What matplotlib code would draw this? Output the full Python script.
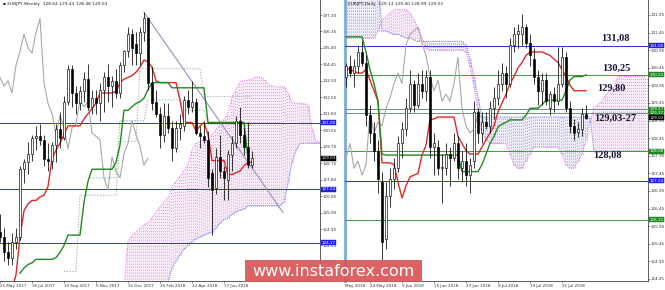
import numpy as np
import matplotlib
matplotlib.use("Agg")
import matplotlib.pyplot as plt
from matplotlib.patches import Rectangle

plt.rcParams["lines.scale_dashes"] = False

# ---------------- weekly panel data (week index 0 = 21 May 2017) ----------------
w_open = [124.8, 124.5, 123.6, 123.3, 124.2, 124.5, 128.4, 128.8, 129.3, 130.2,
          130.3, 130.1, 129.0, 128.9, 129.8, 130.7, 130.2, 132.3, 134.2, 132.8,
          132.2, 132.9, 133.6, 132.0, 132.5, 132.2, 133.0, 133.7, 133.2, 133.5,
          132.8, 134.4, 135.2, 136.2, 135.6, 135.1, 136.3, 137.1, 133.4, 132.3,
          131.6, 130.4, 131.5, 130.8, 129.6, 130.8, 130.9, 132.4, 132.0, 132.3,
          130.5, 130.3, 130.1, 128.2, 127.3, 129.1, 128.3, 127.8, 129.2, 129.9,
          131.2, 130.4, 129.7, 128.64]
w_high = [125.8, 125.0, 124.2, 124.7, 125.0, 128.6, 129.0, 130.0, 130.4, 130.9,
          131.0, 130.4, 129.9, 130.0, 131.0, 131.7, 132.6, 134.4, 134.4, 133.2,
          133.2, 134.0, 134.5, 133.0, 133.0, 133.4, 134.0, 134.5, 133.8, 134.2,
          134.6, 135.3, 136.6, 136.5, 136.3, 136.6, 137.5, 137.2, 134.3, 133.0,
          132.0, 132.2, 132.2, 131.2, 131.2, 131.6, 132.6, 133.0, 133.5, 132.5,
          130.9, 131.2, 130.6, 128.4, 129.6, 130.4, 128.6, 129.5, 130.3, 131.5,
          132.0, 130.8, 131.1, 129.43]
w_low = [124.2, 123.1, 122.9, 122.9, 123.8, 124.3, 127.6, 128.1, 128.9, 129.5,
         129.8, 128.6, 128.3, 128.4, 128.8, 129.6, 130.1, 132.1, 132.0, 131.6,
         131.8, 132.3, 131.8, 131.6, 131.6, 131.2, 131.7, 132.3, 132.0, 132.5,
         132.5, 134.0, 134.9, 134.4, 134.4, 134.4, 135.8, 133.0, 131.8, 131.4,
         129.6, 130.0, 130.5, 128.9, 129.4, 130.1, 130.6, 131.6, 131.7, 130.4,
         129.6, 129.9, 127.4, 124.6, 127.0, 127.9, 126.6, 126.6, 128.3, 129.6,
         129.9, 129.2, 128.5, 128.48]
w_close = [124.5, 123.6, 123.3, 124.2, 124.5, 128.4, 128.8, 129.3, 130.2, 130.3,
           130.1, 129.0, 128.9, 129.8, 130.7, 130.2, 132.3, 134.2, 132.8, 132.2,
           132.9, 133.6, 132.0, 132.5, 132.2, 133.0, 133.7, 133.2, 133.5, 132.8,
           134.4, 135.2, 136.2, 135.4, 135.1, 136.3, 137.1, 133.4, 132.2, 131.6,
           130.4, 131.5, 130.8, 129.6, 130.8, 131.0, 132.4, 132.0, 132.3, 130.5,
           130.3, 130.1, 127.9, 127.2, 129.1, 128.3, 127.9, 129.3, 129.9, 131.2,
           130.4, 129.7, 128.64, 129.03]

w_tenkan_start = 3
w_tenkan = [121.5, 122.3, 124.5, 126.0, 126.4, 126.6, 126.6, 126.8, 126.9, 127.4,
            129.0, 129.5, 129.9, 130.4, 130.9, 130.9, 130.9, 130.9, 131.3, 131.6,
            131.9, 132.2, 132.8, 132.8, 132.8, 132.8, 132.9, 133.4, 133.6, 133.7,
            133.8, 134.0, 134.3, 134.7, 134.6, 134.3, 133.5, 133.4, 133.4, 133.4,
            133.4, 133.4, 132.4, 131.1, 131.1, 131.1, 130.6, 130.9, 131.1, 130.4,
            128.9, 128.9, 128.9, 128.9, 128.1, 128.1, 128.2, 128.3, 128.6, 128.8,
            128.8]
w_kijun_start = 5
w_kijun = [122.4, 122.7, 122.9, 123.0, 123.2, 123.2, 123.2, 123.2, 123.2, 123.3,
           123.6, 124.0, 124.6, 124.6, 124.6, 124.6, 126.5, 127.7, 128.4, 128.4,
           128.4, 128.4, 128.4, 128.4, 128.8, 129.8, 131.8, 131.8, 132.0, 132.2,
           132.3, 132.5, 133.0, 133.4, 133.4, 133.4, 133.4, 133.4, 133.1, 133.1,
           133.1, 133.1, 133.1, 133.1, 133.1, 133.1, 133.1, 131.1, 131.1, 131.1,
           131.1, 131.1, 131.1, 131.1, 131.1, 131.1, 131.1, 129.05]
w_cloud_start = 31
w_span_a = [121.5, 124.2, 124.6, 124.8, 125.0, 125.2, 125.3, 125.6, 125.9, 126.2,
            126.5, 126.74, 127.4, 127.7, 128.0, 128.3, 128.64, 129.5, 129.9, 130.0,
            130.1, 130.1, 130.4, 130.7, 131.0, 131.3, 131.6, 132.57, 133.0, 133.43,
            133.5, 133.55, 133.6, 133.72, 133.7, 133.6, 133.3, 133.2, 133.15, 133.15,
            133.15, 132.8, 132.22, 132.2, 132.2, 132.2, 132.1, 130.75, 130.0, 130.0]
w_span_b = [121.0, 121.0, 121.0, 121.0, 121.0, 121.0, 121.0, 121.0, 121.0, 121.0,
            121.0, 121.9, 122.7, 123.1, 123.45, 123.8, 124.0, 124.2, 124.4, 124.5,
            124.6, 124.7, 124.78, 125.0, 125.3, 125.5, 125.59, 125.8, 125.95, 126.05,
            126.1, 126.3, 126.3, 126.3, 126.3, 126.3, 126.3, 126.3, 126.3, 126.3,
            126.5, 127.6, 128.8, 129.5, 129.9, 129.9, 129.9, 129.9, 129.9, 129.9]
w_dot_gray_start = 16
w_dot_gray = [122.5, 122.5, 122.5, 122.5, 126.9, 126.9, 126.9, 126.9, 126.9, 126.9,
              126.9, 126.9, 126.9, 126.9, 130.0, 130.0, 130.0, 130.0, 130.0, 134.2,
              134.2, 134.2, 134.2, 134.2, 134.2, 134.2, 134.2, 134.2, 134.2, 134.2,
              134.2, 134.2, 134.2, 134.2, 134.2, 132.6, 132.6, 132.6, 132.6, 132.6,
              132.6, 132.6, 132.6, 132.6, 132.6, 132.6, 132.6, 132.6]
w_dot_green_start = 22
w_dot_green = [127.9, 127.9, 127.9, 127.9, 127.9, 127.9, 127.9, 127.9, 131.2, 131.2,
               131.2, 131.2, 131.2, 131.2, 131.2, 132.4, 132.4, 132.4, 132.4, 132.4,
               132.4, 132.4, 132.4, 132.4, 131.8, 131.8, 131.8, 131.8, 131.8, 131.8,
               131.0, 131.0, 131.0, 131.0, 131.0, 131.0, 131.0, 131.0, 131.0, 131.0,
               131.0, 131.0]
w_trend_x = [36, 70.75]
w_trend_y = [137.45, 125.9]
w_levels_blue = [131.08, 127.24, 124.17]
w_yticks = [137.30, 136.35, 135.40, 134.45, 133.50, 132.55, 131.60, 130.65, 129.70,
            128.75, 127.80, 126.85, 125.90, 124.95, 124.00, 123.05]
w_xtick_pos = [0, 8, 16, 24, 32, 40, 48, 56]
w_xtick_lab = ["21 May 2017", "16 Jul 2017", "10 Sep 2017", "5 Nov 2017",
               "31 Dec 2017", "25 Feb 2018", "22 Apr 2018", "17 Jun 2018"]

# ---------------- daily panel data (day index 0 = 24 May 2018) ----------------
d_start = -6
d_open = [130.2, 130.5, 130.3, 130.5, 130.9, 130.6, 129.1, 128.6, 128.1, 127.2,
          125.6, 126.8, 127.3, 127.6, 128.3, 128.7, 129.3, 130.0, 129.4, 130.0,
          129.8, 130.2, 128.2, 128.2, 127.6, 127.6, 128.0, 127.9, 128.3, 127.6,
          127.8, 127.4, 127.8, 129.2, 128.6, 128.9, 128.8, 129.3, 129.6, 130.0,
          130.3, 130.0, 131.1, 131.4, 131.4, 131.6, 131.15, 130.7, 130.2, 129.8,
          130.1, 129.3, 129.7, 129.5, 130.0, 130.75, 129.3, 128.8, 128.64, 128.7,
          129.13]
d_high = [130.6, 130.8, 130.7, 131.1, 131.2, 130.8, 129.4, 128.9, 128.4, 127.5,
          127.2, 127.6, 127.9, 128.5, 128.9, 129.6, 130.4, 130.1, 130.3, 130.4,
          130.4, 130.4, 128.6, 128.4, 128.0, 128.3, 128.2, 128.6, 128.5, 128.1,
          128.3, 127.9, 129.5, 129.3, 129.2, 129.2, 129.5, 129.9, 130.4, 130.6,
          130.5, 131.3, 131.6, 131.7, 131.98, 131.7, 131.4, 131.0, 130.4, 130.3,
          130.3, 129.8, 129.9, 131.05, 131.05, 130.9, 129.5, 129.0, 128.9, 129.3,
          129.40]
d_low = [129.9, 130.2, 129.9, 130.3, 130.5, 128.8, 128.3, 127.8, 126.9, 125.0,
         125.3, 126.5, 127.0, 127.5, 127.9, 128.5, 129.2, 129.2, 129.3, 129.6,
         129.5, 127.9, 127.4, 127.4, 126.6, 127.4, 127.1, 127.8, 127.3, 127.2,
         127.1, 126.9, 127.6, 128.3, 128.3, 128.7, 128.6, 129.0, 129.4, 129.8,
         129.6, 129.9, 130.9, 131.0, 131.1, 131.0, 130.5, 130.0, 129.4, 129.4,
         129.4, 129.1, 129.2, 129.4, 129.9, 129.2, 128.6, 128.4, 128.48, 128.5,
         128.99]
d_close = [130.5, 130.3, 130.5, 130.9, 130.6, 129.1, 128.6, 128.1, 127.3, 125.5,
           126.8, 127.3, 127.6, 128.3, 128.7, 129.3, 130.0, 129.4, 130.0, 129.8,
           130.2, 128.2, 128.3, 127.6, 127.6, 128.0, 127.9, 128.3, 127.6, 127.8,
           127.4, 127.7, 129.2, 128.6, 128.9, 128.8, 129.3, 129.6, 130.0, 130.3,
           130.0, 131.1, 131.4, 131.5, 131.6, 131.15, 130.8, 130.2, 129.8, 130.1,
           129.5, 129.7, 129.5, 130.0, 130.75, 129.3, 128.8, 128.6, 128.7, 129.13,
           129.03]
d_tenkan = [130.45, 130.4, 130.35, 130.3, 130.3, 130.4, 130.1, 129.8, 129.5, 127.75,
            127.75, 127.75, 127.7, 127.2, 126.75, 127.1, 127.35, 127.4, 127.45, 127.97,
            128.25, 128.97, 129.0, 129.05, 129.05, 129.05, 129.05, 129.05, 128.5, 128.3,
            128.1, 128.0, 128.0, 128.0, 128.2, 128.4, 128.6, 128.8, 129.2, 129.45,
            129.7, 130.0, 130.2, 130.45, 130.6, 130.8, 130.9, 130.9, 130.9, 130.9,
            130.85, 130.8, 130.7, 130.6, 130.4, 130.2, 129.96, 129.8, 129.8, 129.8,
            129.8]
d_kijun = [131.33, 131.33, 131.33, 131.33, 131.33, 130.9, 130.4, 130.0, 129.5, 128.0,
           127.97, 127.97, 127.97, 127.97, 127.97, 127.97, 127.97, 127.97, 127.97, 127.97,
           127.97, 127.97, 127.97, 127.97, 127.97, 127.97, 127.97, 127.97, 127.97, 127.5,
           127.5, 127.5, 127.5, 127.5, 127.7, 128.0, 128.3, 128.5, 128.77, 128.85,
           128.9, 128.97, 128.97, 128.97, 128.97, 129.1, 129.3, 129.3, 129.3, 129.4,
           129.53, 129.53, 129.53, 129.53, 129.53, 129.8, 130.1, 130.2, 130.2, 130.2,
           130.25]
d_span_a = [131.3, 131.3, 131.3, 131.3, 131.3, 131.3, 131.3, 131.3, 131.5, 131.8,
            131.9, 132.0, 132.1, 132.1, 132.1, 132.1, 132.0, 131.8, 131.6, 131.3,
            131.0, 130.95, 130.95, 130.95, 130.95, 130.95, 130.95, 130.95, 130.95, 130.95,
            130.9, 130.5, 129.9, 129.2, 128.6, 128.4, 128.3, 128.3, 128.3, 128.3,
            128.3, 128.0, 127.7, 127.6, 127.6, 127.8, 128.0, 128.2, 128.2, 128.2,
            128.2, 128.2, 128.2, 128.2, 128.0, 127.7, 127.6, 127.6, 127.8, 128.0,
            128.4, 128.9, 129.3, 129.4, 129.5, 129.7, 129.8, 129.9, 130.2, 130.2,
            130.2, 130.2, 130.2, 130.2, 130.2, 130.2]
d_span_b = [133.2, 133.2, 133.2, 133.2, 133.2, 133.2, 133.2, 133.2, 133.2, 131.5,
            131.5, 131.45, 131.4, 131.4, 131.35, 131.3, 131.3, 131.25, 131.2, 131.2,
            131.2, 131.2, 131.2, 131.2, 131.2, 131.2, 131.2, 131.2, 131.2, 131.2,
            131.1, 130.7, 130.2, 129.6, 129.05, 129.05, 129.05, 129.05, 129.05, 129.05,
            129.05, 129.05, 129.05, 129.05, 129.05, 129.05, 129.05, 129.05, 129.05, 129.05,
            129.05, 129.05, 129.05, 129.05, 129.05, 129.05, 129.05, 129.05, 129.05, 129.05,
            129.05, 129.05, 128.08, 128.08, 128.08, 128.08, 128.08, 128.08, 128.08, 128.08,
            128.08, 128.08, 128.08, 128.08, 128.08, 128.08]
d_levels = [(131.08, "#2f2fd0", "blue"), (130.25, "#3c9a3c", "green"),
            (129.27, "#6f8f7f", "green"), (129.17, "#6f8f7f", "green"),
            (128.08, "#3c9a3c", "green"), (127.24, "#2f2fd0", "blue"),
            (126.13, "#3c9a3c", "green")]
d_notes = [(61.3, 131.30, "131,08"), (61.5, 130.44, "130,25"), (60.3, 129.88, "129,80"),
           (61.3, 129.02, "129,03-27"), (59.3, 127.97, "128,08")]
d_yticks = [131.95, 131.45, 130.95, 130.45, 129.95, 129.45, 128.95, 128.45, 127.95,
            127.45, 126.95, 126.45, 125.95, 125.45, 124.95, 124.45]
d_xtick_pos = [0, 8, 16, 24, 32, 40, 48]
d_xtick_lab = ["24 May 2018", "5 Jun 2018", "15 Jun 2018", "27 Jun 2018",
               "9 Jul 2018", "19 Jul 2018", "31 Jul 2018"]

PINK = "#ec7aec"
PINK_TINT = "#fcecfc"
BLUE = "#8080f0"
BLUE_TINT = "#eeeefc"
RED = "#e02828"
GREEN = "#1f8a1f"
GRAY = "#a8a8a8"
TICK_FS = 3.0

fig = plt.figure(figsize=(6.65, 2.90), dpi=100)
axL = fig.add_axes([0 / 665, 9 / 290, 320 / 665, 281 / 290])
axR = fig.add_axes([345 / 665, 9 / 290, 303 / 665, 281 / 290])


def draw_candles(ax, xs, o, h, l, c):
    o, h, l, c = map(np.asarray, (o, h, l, c))
    ax.vlines(xs, l, h, color="black", lw=0.55, zorder=5)
    bottoms = np.minimum(o, c)
    heights = np.maximum(np.abs(c - o), 0.03)
    cols = ["white" if cc >= oo else "black" for oo, cc in zip(o, c)]
    ax.bar(xs, heights, bottom=bottoms, width=0.62, color=cols,
           edgecolor="black", linewidth=0.45, zorder=6)


def draw_cloud(ax, xs, a, b):
    xs = np.asarray(xs, dtype=float)
    a = np.asarray(a); b = np.asarray(b)
    ax.fill_between(xs, a, b, where=a >= b, interpolate=True, color=PINK_TINT,
                    lw=0, zorder=0.5)
    ax.fill_between(xs, a, b, where=a < b, interpolate=True, color=BLUE_TINT,
                    lw=0, zorder=0.5)
    for col, mask in ((PINK, a >= b), (BLUE, a < b)):
        xv = xs[mask]
        lo = np.minimum(a, b)[mask]
        hi = np.maximum(a, b)[mask]
        for dx in (-0.25, 0.25):
            ax.vlines(xv + dx, lo, hi, colors=col, lw=0.65,
                      linestyles=[(0, (0.65, 1.5))], zorder=1)
    ax.plot(xs, a, color=PINK, lw=0.8, ls=(0, (0.8, 0.8)), zorder=2)
    ax.plot(xs, b, color=BLUE, lw=0.8, ls=(0, (0.8, 0.8)), zorder=2)


def axis_box(ax, y, text, color):
    ax.text(1.004, y, text, transform=ax.get_yaxis_transform(), fontsize=TICK_FS,
            color="white", va="center", ha="left", zorder=30, clip_on=False,
            bbox=dict(boxstyle="square,pad=0.1", fc=color, ec=color, lw=0.3))


def style_axis(ax, xlim, ylim, yticks, xpos, xlab):
    ax.set_xlim(*xlim)
    ax.set_ylim(*ylim)
    ax.yaxis.tick_right()
    ax.set_yticks(yticks)
    ax.set_yticklabels([f"{v:.2f}" for v in yticks])
    ax.set_xticks(xpos)
    ax.set_xticklabels(xlab)
    for lab in ax.get_xticklabels():
        lab.set_ha("left")
    ax.tick_params(axis="both", labelsize=TICK_FS, length=1.3, width=0.4, pad=0.8,
                   colors="#333333")
    ax.spines["top"].set_visible(False)
    ax.spines["left"].set_visible(False)
    for s in ("right", "bottom"):
        ax.spines[s].set_linewidth(0.6)
        ax.spines[s].set_color("#444444")


# ---------------- left: weekly ----------------
wx = np.arange(len(w_close))
draw_cloud(axL, np.arange(w_cloud_start, w_cloud_start + len(w_span_a)), w_span_a, w_span_b)
axL.plot(np.arange(w_dot_gray_start, w_dot_gray_start + len(w_dot_gray)), w_dot_gray,
         color="#b0b0b0", lw=0.7, ls=(0, (1, 1)), zorder=2)
axL.plot(np.arange(w_dot_green_start, w_dot_green_start + len(w_dot_green)), w_dot_green,
         color="#8cc08c", lw=0.7, ls=(0, (1, 1)), zorder=2)
for lv in w_levels_blue:
    axL.axhline(lv, color="#3030d8", lw=0.7, zorder=3)
axL.plot(w_trend_x, w_trend_y, color="#9c8cc8", lw=0.8, zorder=3)
axL.plot(wx[26:] - 26, w_close[26:], color=GRAY, lw=0.8, zorder=3)
axL.plot(np.arange(w_tenkan_start, w_tenkan_start + len(w_tenkan)), w_tenkan,
         color=RED, lw=1.0, zorder=4)
axL.plot(np.arange(w_kijun_start, w_kijun_start + len(w_kijun)), w_kijun,
         color=GREEN, lw=1.0, zorder=4)
draw_candles(axL, wx, w_open, w_high, w_low, w_close)
style_axis(axL, (0, 80), (121.951, 138.166), w_yticks, w_xtick_pos, w_xtick_lab)
axis_box(axL, 131.08, "131.08", "#2020e0")
axis_box(axL, 129.03, "129.03", "black")
axis_box(axL, 127.24, "127.24", "#2020e0")
axis_box(axL, 124.17, "124.17", "#2020e0")
axL.text(0.008, 0.993, "\u25aa EURJPY,Weekly  128.64 129.43 128.48 129.03",
         transform=axL.transAxes, fontsize=3.2, va="top", ha="left", color="#222222")

# ---------------- right: daily ----------------
dx = np.arange(d_start, d_start + len(d_close))
cx = np.arange(d_start, d_start + len(d_span_a))
draw_cloud(axR, cx, d_span_a, d_span_b)
for lv, col, _ in d_levels:
    axR.axhline(lv, color=col, lw=0.7, zorder=3)
axR.plot(dx[26:] - 26, d_close[26:], color=GRAY, lw=0.8, zorder=3)
axR.plot(dx, d_tenkan, color=RED, lw=1.0, zorder=4)
axR.plot(dx, d_kijun, color=GREEN, lw=1.0, zorder=4)
draw_candles(axR, dx, d_open, d_high, d_low, d_close)
style_axis(axR, (-6.25, 69.5), (124.393, 132.376), d_yticks, d_xtick_pos, d_xtick_lab)
axR.spines["left"].set_visible(True)
axR.spines["left"].set_color("#7fa8e0")
axR.spines["left"].set_linewidth(2.0)
for lv, col, kind in d_levels:
    axis_box(axR, lv, f"{lv:.2f}", "#2020e0" if kind == "blue" else "#1f8a1f")
axis_box(axR, 129.03, "129.03", "black")
for xi, yi, t in d_notes:
    axR.text(xi, yi, t, fontsize=7.5, fontweight="bold", family="Liberation Serif",
             color="#15153a", ha="center", va="center", zorder=20)
axR.text(0.01, 0.993, "EURJPY,Daily  129.13 129.40 128.99 129.03",
         transform=axR.transAxes, fontsize=3.2, va="top", ha="left", color="#222222")
axR.text(0.0, -0.01, "May 2018", transform=axR.transAxes, fontsize=TICK_FS,
         va="top", ha="left", color="#333333")

# watermark
fig.add_artist(Rectangle((245 / 665, 8 / 290), 177 / 665, 22 / 290,
                         transform=fig.transFigure, facecolor="#d95656",
                         edgecolor="none", alpha=0.92, zorder=40))
fig.text(333 / 665, 19 / 290, "www.instaforex.com", color="white", fontsize=11.5,
         ha="center", va="center", zorder=41)

fig.savefig("out.png", dpi=100)
